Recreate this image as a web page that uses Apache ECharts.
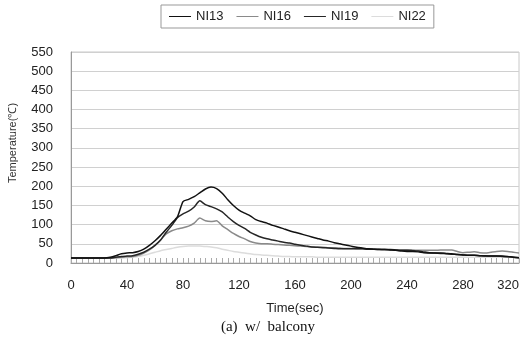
<!DOCTYPE html>
<html>
<head>
<meta charset="utf-8">
<script src="https://cdn.jsdelivr.net/npm/echarts@6/dist/echarts.min.js"></script>
<style>
  html, body { margin: 0; padding: 0; background: #fff; }
  #main { width: 527px; height: 341px; }
</style>
</head>
<body>
<div id="main"></div>
<script>
// time (sec), one reading every 4 sec
let times = [0,4,8,12,16,20,24,28,32,36,40,44,48,52,56,60,64,68,72,76,80,84,88,92,96,100,
  104,108,112,116,120,124,128,132,136,140,144,148,152,156,160,164,168,172,176,180,184,188,192,196,200,
  204,208,212,216,220,224,228,232,236,240,244,248,252,256,260,264,268,272,276,280,284,288,292,296,300,
  304,308,312,316,320];

let ni13 = [13,13,13,13,13,13,13,15,19,24,26,27,30,36,46,58,72,88,104,120,160,166,173,183,193,198,
  194,182,165,150,138,130,123,113,108,104,98,94,89,84,80,76,72,68,64,60,57,53,50,47,44,
  41,39,37,36,35,35,34,33,31,30,30,29,27,26,26,26,25,24,22,21,20,20,19,18,18,
  18,18,17,15,14];
let ni16 = [13,13,13,13,13,13,13,13,14,15,16,17,20,26,34,46,60,76,84,89,92,96,104,117,110,108,
  110,97,87,77,69,63,56,52,50,50,49,48,47,46,45,44,43,42,41,41,40,40,39,38,38,
  37,37,36,36,35,35,34,34,34,34,34,33,33,33,33,34,34,34,30,27,28,29,27,26,28,
  30,31,30,28,26];
let ni19 = [13,13,13,13,13,13,13,13,15,17,18,19,23,28,36,46,60,80,98,118,128,135,146,162,152,147,
  141,133,120,108,98,90,80,73,67,63,60,57,54,52,49,46,44,42,41,40,39,38,37,37,37,
  37,37,36,36,36,35,35,34,33,33,32,31,29,27,26,25,24,23,22,21,20,20,19,19,18,
  18,17,16,15,14];
let ni22 = [13,13,13,13,13,13,13,13,13,13,14,15,17,20,24,28,32,35,38,41,43,44,44,44,43,42,
  40,36,33,30,28,26,24,22,21,20,19,18,17,17,16,16,16,16,15,15,15,15,15,15,15,
  15,15,15,15,15,15,15,15,15,15,15,15,15,15,15,15,15,15,15,15,15,15,15,15,15,
  15,15,15,15,15];

let seriesNames = ['NI13', 'NI16', 'NI19', 'NI22'];
let seriesColors = ['#111111', '#8a8a8a', '#262626', '#dcdcdc'];

function pairs(vals) {
  return times.map(function (t, i) { return [t, vals[i]]; });
}

let chart = echarts.init(document.getElementById('main'));
let allData = [ni13, ni16, ni19, ni22];

let option = {
  animation: false,
  textStyle: { fontFamily: 'Liberation Sans' },
  legend: {
    data: seriesNames,
    left: 161,
    top: 5,
    padding: [5, 8],
    itemWidth: 22,
    itemHeight: 10,
    itemGap: 13,
    borderColor: '#999',
    borderWidth: 1,
    icon: 'path://M0,5 L22,5 L22,6 L0,6 Z',
    textStyle: { fontSize: 13, color: '#222' }
  },
  grid: {
    left: 71, right: 8, top: 52, bottom: 78,
    show: true,
    borderColor: '#c8c8c8',
    borderWidth: 1
  },
  xAxis: {
    type: 'value',
    min: 0, max: 320, interval: 40,
    name: 'Time(sec)',
    nameLocation: 'middle',
    nameGap: 39,
    nameTextStyle: { fontSize: 13, color: '#222' },
    axisLine: { show: true, lineStyle: { color: '#999' } },
    axisTick: { show: true, inside: true, length: 5, lineStyle: { color: '#aaa' } },
    minorTick: { show: true, splitNumber: 10, length: 5, lineStyle: { color: '#aaa' } },
    splitLine: { show: false },
    axisLabel: { fontSize: 13, color: '#222', margin: 16, alignMaxLabel: 'right' }
  },
  yAxis: {
    type: 'value',
    min: 0, max: 550, interval: 50,
    axisLine: { show: true, lineStyle: { color: '#999' } },
    axisTick: { show: false },
    splitLine: { show: true, lineStyle: { color: '#d0d0d0' } },
    axisLabel: { fontSize: 13, color: '#222', margin: 18 }
  },
  graphic: [
    {
      type: 'text',
      x: 13, y: 143,
      rotation: Math.PI / 2,
      style: {
        text: 'Temperature(℃)',
        fontSize: 11,
        fontFamily: 'Liberation Sans',
        fill: '#333',
        align: 'center',
        verticalAlign: 'middle'
      }
    },
    {
      type: 'text',
      x: 268, y: 327,
      style: {
        text: '(a)  w/  balcony',
        fontSize: 15,
        fontFamily: 'Liberation Serif',
        fill: '#111',
        align: 'center',
        verticalAlign: 'middle'
      }
    }
  ],
  series: []
};

// draw lighter lines first so the dark ones stay on top
let order = [3, 1, 2, 0];
for (let k = 0; k < order.length; k++) {
  let i = order[k];
  option.series.push({
    name: seriesNames[i],
    type: 'line',
    data: pairs(allData[i]),
    showSymbol: false,
    smooth: 0.2,
    lineStyle: { color: seriesColors[i], width: 1.5 },
    itemStyle: { color: seriesColors[i] }
  });
}

chart.setOption(option);
</script>
</body>
</html>
